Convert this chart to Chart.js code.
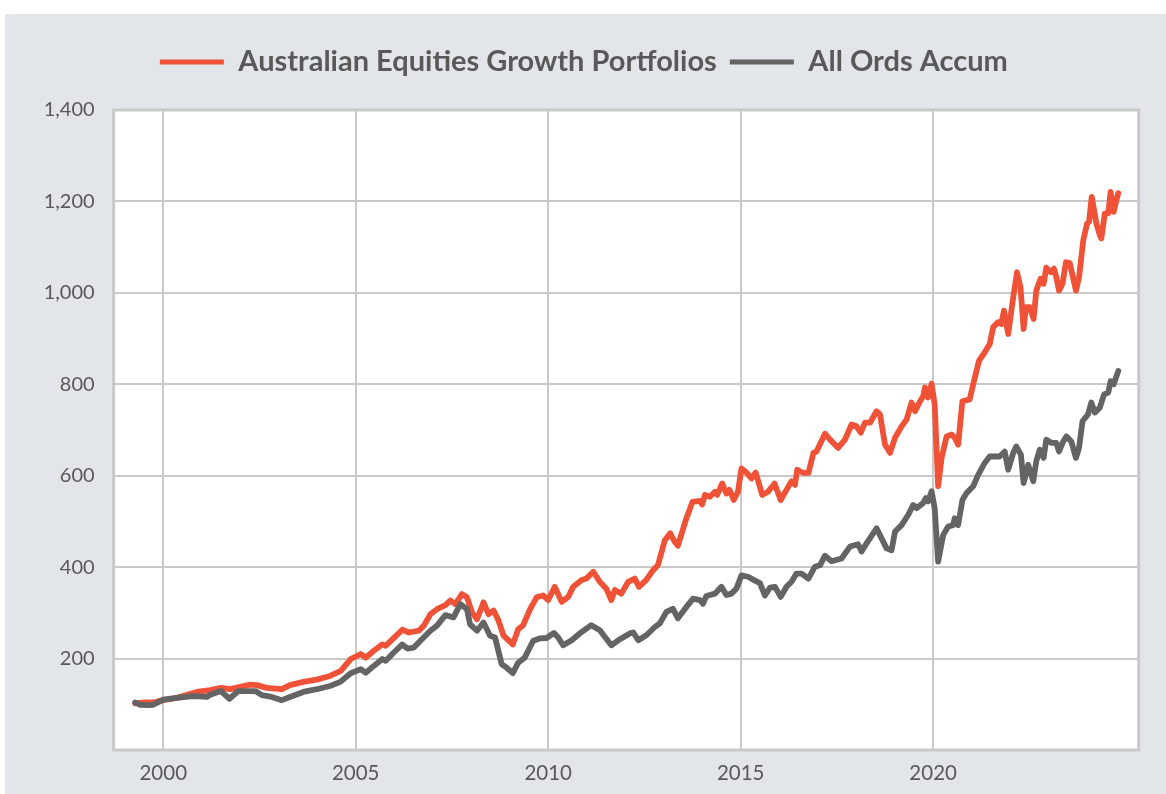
<!DOCTYPE html>
<html>
<head>
<meta charset="utf-8">
<script src="https://cdn.jsdelivr.net/npm/chart.js@4/dist/chart.umd.min.js"></script>
<style>
  html, body { margin: 0; padding: 0; background: #ffffff; }
  #wrap { position: absolute; left: 5px; top: 14px; width: 1161px; height: 780px; background: #E2E5EA; }
  canvas { display: block; }
</style>
</head>
<body>
<div id="wrap"><canvas id="c" width="1161" height="780"></canvas></div>
<script>
// ---- Data ----
const seriesNames = ['Australian Equities Growth Portfolios', 'All Ords Accum'];
const xTickYears = [2000, 2005, 2010, 2015, 2020];
const yTickValues = [0, 200, 400, 600, 800, 1000, 1200, 1400];

const growthX = [1999.27,1999.5,1999.74,2000.0,2000.35,2000.87,2001.22,2001.5,2001.74,2002.26,2002.43,2002.69,2003.08,2003.29,2003.64,2003.99,2004.33,2004.61,2004.87,2005.13,2005.26,2005.47,2005.69,2005.78,2005.95,2006.21,2006.38,2006.64,2006.77,2006.94,2007.11,2007.33,2007.46,2007.59,2007.76,2007.89,2008.02,2008.15,2008.32,2008.45,2008.58,2008.71,2008.84,2009.08,2009.22,2009.35,2009.53,2009.7,2009.87,2010.0,2010.17,2010.35,2010.52,2010.65,2010.87,2010.99,2011.17,2011.34,2011.51,2011.64,2011.73,2011.9,2012.08,2012.25,2012.36,2012.55,2012.72,2012.85,2013.03,2013.17,2013.29,2013.37,2013.59,2013.75,2013.94,2014.0,2014.07,2014.2,2014.33,2014.39,2014.52,2014.63,2014.71,2014.82,2014.93,2015.02,2015.15,2015.28,2015.39,2015.56,2015.71,2015.88,2016.04,2016.19,2016.32,2016.41,2016.47,2016.63,2016.76,2016.89,2016.97,2017.19,2017.32,2017.53,2017.71,2017.88,2018.01,2018.12,2018.23,2018.36,2018.53,2018.62,2018.75,2018.88,2019.01,2019.18,2019.31,2019.44,2019.53,2019.66,2019.74,2019.79,2019.87,2019.96,2020.04,2020.13,2020.22,2020.35,2020.48,2020.56,2020.65,2020.76,2020.95,2021.04,2021.19,2021.34,2021.47,2021.56,2021.69,2021.77,2021.84,2021.95,2022.08,2022.18,2022.27,2022.35,2022.41,2022.51,2022.61,2022.68,2022.79,2022.87,2022.94,2023.06,2023.14,2023.2,2023.27,2023.36,2023.45,2023.55,2023.71,2023.79,2023.9,2024.0,2024.05,2024.12,2024.24,2024.33,2024.37,2024.46,2024.55,2024.61,2024.69,2024.76,2024.81];
const growthY = [102,104,104,109,114,127,131,136,133,143,142,136,133,142,149,154,162,173,199,210,202,217,231,228,242,263,257,261,272,297,308,317,327,319,341,334,301,286,323,297,305,283,250,231,264,273,308,334,338,328,357,324,335,357,372,375,390,368,353,328,350,342,368,375,357,372,393,404,459,474,455,447,507,543,545,537,558,554,565,558,583,561,569,547,565,616,607,594,607,558,565,583,547,569,588,580,613,606,606,650,653,692,679,661,679,712,708,694,716,716,741,734,668,650,683,708,723,760,741,763,774,793,771,801,756,577,639,686,690,683,668,763,767,800,851,870,888,925,936,932,961,910,990,1045,1012,921,969,969,943,1005,1031,1020,1055,1045,1053,1034,1005,1020,1067,1065,1005,1034,1115,1152,1155,1210,1152,1126,1119,1174,1174,1221,1177,1203,1218];

const ordsX = [1999.27,1999.4,1999.6,1999.74,2000.0,2000.35,2000.78,2001.13,2001.22,2001.5,2001.72,2001.95,2002.39,2002.56,2002.82,2003.08,2003.29,2003.64,2003.99,2004.33,2004.6,2004.87,2005.13,2005.26,2005.47,2005.69,2005.78,2005.95,2006.21,2006.34,2006.51,2006.68,2006.94,2007.11,2007.33,2007.54,2007.72,2007.89,2007.97,2008.15,2008.32,2008.49,2008.62,2008.79,2008.92,2009.08,2009.22,2009.39,2009.61,2009.78,2009.96,2010.15,2010.26,2010.39,2010.61,2010.82,2011.12,2011.34,2011.64,2011.82,2012.12,2012.21,2012.34,2012.55,2012.77,2012.9,2013.07,2013.24,2013.37,2013.59,2013.76,2013.94,2014.02,2014.11,2014.33,2014.5,2014.63,2014.76,2014.89,2015.02,2015.19,2015.36,2015.5,2015.63,2015.76,2015.89,2016.04,2016.19,2016.32,2016.45,2016.58,2016.76,2016.93,2017.06,2017.19,2017.36,2017.62,2017.84,2018.05,2018.14,2018.27,2018.53,2018.66,2018.79,2018.92,2019.01,2019.18,2019.35,2019.48,2019.57,2019.74,2019.81,2019.87,2019.96,2020.04,2020.13,2020.26,2020.39,2020.52,2020.56,2020.65,2020.76,2020.87,2021.04,2021.17,2021.34,2021.47,2021.6,2021.73,2021.86,2021.95,2022.08,2022.16,2022.28,2022.35,2022.47,2022.6,2022.68,2022.77,2022.87,2022.94,2023.07,2023.2,2023.27,2023.38,2023.46,2023.59,2023.71,2023.79,2023.88,2024.02,2024.11,2024.2,2024.33,2024.44,2024.55,2024.61,2024.69,2024.81];
const ordsY = [104,99,98,99,110,114,118,116,121,129,112,129,129,120,116,109,116,127,133,140,149,168,177,169,184,199,195,210,231,222,224,239,261,272,295,290,319,308,275,261,279,250,246,188,180,168,191,202,239,244,245,256,246,229,240,255,273,262,229,240,255,257,240,251,269,277,302,309,288,313,331,328,320,337,342,357,339,342,353,382,379,371,365,338,355,357,335,357,368,386,386,375,401,404,425,413,419,445,450,434,452,485,463,441,437,478,492,514,536,529,540,551,544,566,529,412,470,489,492,507,492,547,562,577,602,628,642,642,642,653,613,650,664,646,584,624,588,632,657,639,679,672,672,653,675,686,675,639,661,719,734,760,738,749,778,782,807,800,829];

// ---- Styling ----
const ORANGE = '#F05237';
const GREY = '#646464';
const TEXT = '#595959';
const GRID = '#C9C9C9';

const toPoints = (xs, ys) => xs.map((x, i) => ({ x: x, y: ys[i] }));

const plotBg = {
  id: 'plotBg',
  beforeLayout(chart) {
    if (chart.legend && !chart.legend._fixed) {
      const f = chart.legend.fit;
      chart.legend.fit = function () { f.call(this); this.height = 75.5; };
      chart.legend._fixed = true;
    }
  },
  beforeDraw(chart) {
    const a = chart.chartArea, ctx = chart.ctx;
    ctx.save();
    ctx.fillStyle = '#ffffff';
    ctx.fillRect(a.left, a.top, a.right - a.left, a.bottom - a.top);
    ctx.restore();
  },
  beforeDatasetsDraw(chart) {
    const a = chart.chartArea, ctx = chart.ctx;
    ctx.save();
    ctx.strokeStyle = GRID;
    ctx.lineWidth = 3;
    ctx.strokeRect(a.left, a.top, a.right - a.left, a.bottom - a.top);
    ctx.restore();
  }
};

new Chart(document.getElementById('c'), {
  type: 'line',
  data: {
    datasets: [
      { label: seriesNames[0], data: toPoints(growthX, growthY), borderColor: ORANGE, backgroundColor: ORANGE,
        borderWidth: 5.8, pointRadius: 0, tension: 0, borderJoinStyle: 'round', borderCapStyle: 'round', order: 2 },
      { label: seriesNames[1], data: toPoints(ordsX, ordsY), borderColor: GREY, backgroundColor: GREY,
        borderWidth: 5.8, pointRadius: 0, tension: 0, borderJoinStyle: 'round', borderCapStyle: 'round', order: 1 }
    ]
  },
  options: {
    responsive: false,
    animation: false,
    layout: { padding: { top: 20.5, left: 24, right: 27.3, bottom: 0 } },
    plugins: {
      tooltip: { enabled: false },
      legend: {
        position: 'top',
        labels: {
          color: TEXT,
          font: { family: 'Lato', size: 29, weight: 'bold' },
          boxWidth: 64,
          boxHeight: 5,
          padding: 13,
          sort: (a, b) => a.datasetIndex - b.datasetIndex,
          generateLabels(chart) {
            const items = Chart.defaults.plugins.legend.labels.generateLabels(chart);
            items.forEach(it => { it.lineWidth = 0; it.fillStyle = it.strokeStyle; });
            return items;
          }
        }
      }
    },
    scales: {
      x: {
        type: 'linear',
        min: 1998.71,
        max: 2025.34,
        afterBuildTicks(s) { s.ticks = xTickYears.map(v => ({ value: v })); },
        afterFit(s) { s.height = 44; },
        grid: { color: GRID, lineWidth: 2, drawTicks: false },
        border: { display: false },
        ticks: { color: TEXT, font: { family: 'Lato', size: 20.5 }, padding: 11, maxRotation: 0,
                 callback: v => String(v) }
      },
      y: {
        min: 0,
        max: 1400,
        afterBuildTicks(s) { s.ticks = yTickValues.map(v => ({ value: v })); },
        afterFit(s) { s.width = 84.6; },
        grid: { color: GRID, lineWidth: 2, drawTicks: false },
        border: { display: false },
        ticks: { color: TEXT, font: { family: 'Lato', size: 20 }, padding: 19,
                 callback: v => v === 0 ? '' : v.toLocaleString('en-US') }
      }
    }
  },
  plugins: [plotBg]
});
</script>
</body>
</html>
